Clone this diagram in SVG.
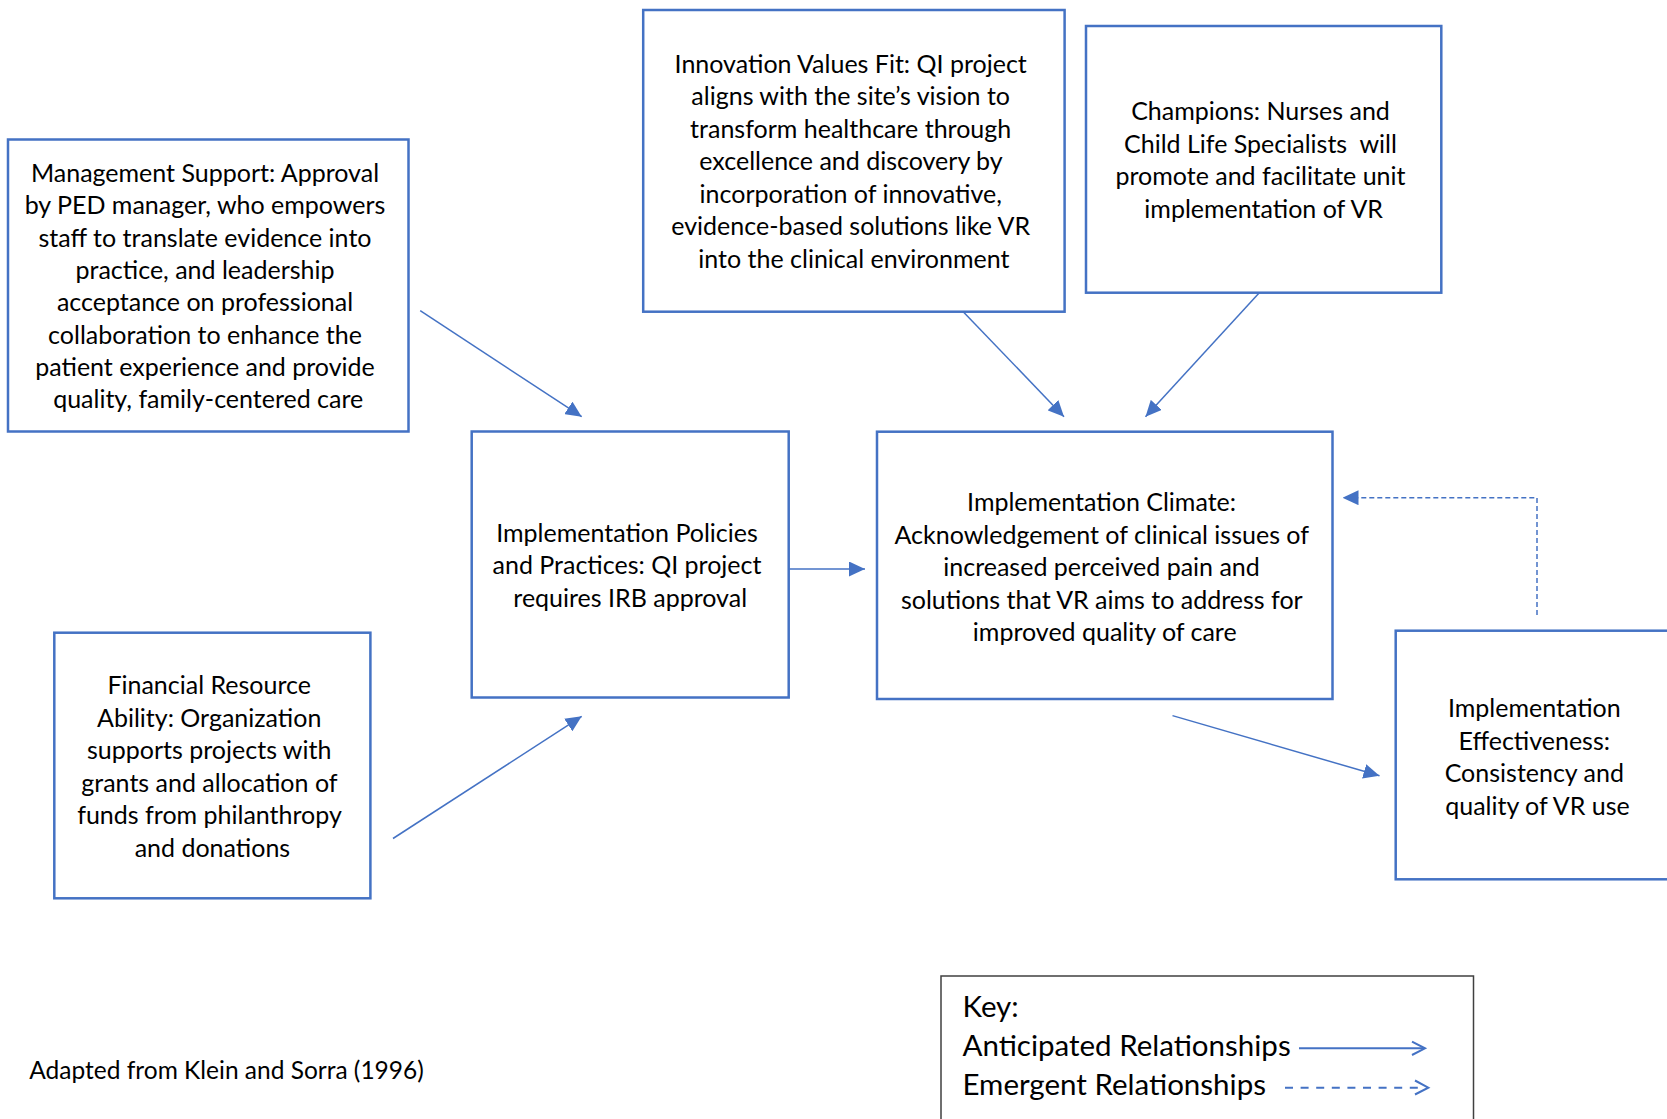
<svg xmlns="http://www.w3.org/2000/svg" width="1667" height="1119" viewBox="0 0 1667 1119">
<style>
  .box { fill: #ffffff; stroke: #4472C4; stroke-width: 2.5; }
  .t { font-family: Lato, "Liberation Sans", sans-serif; font-size: 25px; fill: #000000; text-anchor: middle; }
  .k { font-family: Lato, "Liberation Sans", sans-serif; font-size: 29.5px; fill: #000000; }
  .c { stroke: #4472C4; stroke-width: 1.5; fill: none; }
  .d { stroke-dasharray: 5 3; }
</style>
<defs>
  <marker id="ah" viewBox="0 0 16 15" refX="16" refY="7.5" markerWidth="16" markerHeight="15" markerUnits="userSpaceOnUse" orient="auto">
    <path d="M0,0 L16,7.5 L0,15 z" fill="#4472C4"/>
  </marker>
</defs>
<rect width="1667" height="1119" fill="#ffffff"/>

<g id="management-support">
  <rect class="box" x="8" y="139.5" width="400.5" height="292"/>
  <text class="t">
    <tspan x="208.2" y="182">Management Support: Approval</tspan>
    <tspan x="208.2" y="214.3">by PED manager, who empowers</tspan>
    <tspan x="208.2" y="246.6">staff to translate evidence into</tspan>
    <tspan x="208.2" y="278.9">practice, and leadership</tspan>
    <tspan x="208.2" y="311.2">acceptance on professional</tspan>
    <tspan x="208.2" y="343.5">collaboration to enhance the</tspan>
    <tspan x="208.2" y="375.8">patient experience and provide</tspan>
    <tspan x="208.2" y="408.1">quality, family-centered care</tspan>
  </text>
</g>

<g id="innovation-values-fit">
  <rect class="box" x="643.2" y="10" width="421.4" height="301.7"/>
  <text class="t">
    <tspan x="853.9" y="72.7">Innovation Values Fit: QI project</tspan>
    <tspan x="853.9" y="105.2">aligns with the site’s vision to</tspan>
    <tspan x="853.9" y="137.7">transform healthcare through</tspan>
    <tspan x="853.9" y="170.2">excellence and discovery by</tspan>
    <tspan x="853.9" y="202.7">incorporation of innovative,</tspan>
    <tspan x="853.9" y="235.2">evidence-based solutions like VR</tspan>
    <tspan x="853.9" y="267.7">into the clinical environment</tspan>
  </text>
</g>

<g id="champions">
  <rect class="box" x="1086" y="26" width="355.3" height="266.7"/>
  <text class="t">
    <tspan x="1263.7" y="120">Champions: Nurses and</tspan>
    <tspan x="1263.7" y="152.5">Child Life Specialists&#160; will</tspan>
    <tspan x="1263.7" y="185">promote and facilitate unit</tspan>
    <tspan x="1263.7" y="217.5">implementation of VR</tspan>
  </text>
</g>

<g id="implementation-policies">
  <rect class="box" x="471.7" y="431.5" width="317" height="266"/>
  <text class="t">
    <tspan x="630.2" y="541.7">Implementation Policies</tspan>
    <tspan x="630.2" y="574.2">and Practices: QI project</tspan>
    <tspan x="630.2" y="606.7">requires IRB approval</tspan>
  </text>
</g>

<g id="implementation-climate">
  <rect class="box" x="877" y="431.7" width="455.5" height="267.3"/>
  <text class="t">
    <tspan x="1104.75" y="511">Implementation Climate:</tspan>
    <tspan x="1104.75" y="543.5">Acknowledgement of clinical issues of</tspan>
    <tspan x="1104.75" y="576">increased perceived pain and</tspan>
    <tspan x="1104.75" y="608.5">solutions that VR aims to address for</tspan>
    <tspan x="1104.75" y="641">improved quality of care</tspan>
  </text>
</g>

<g id="financial-resource">
  <rect class="box" x="54.3" y="632.7" width="316.1" height="265.6"/>
  <text class="t">
    <tspan x="212.4" y="694.3">Financial Resource</tspan>
    <tspan x="212.4" y="726.8">Ability: Organization</tspan>
    <tspan x="212.4" y="759.3">supports projects with</tspan>
    <tspan x="212.4" y="791.8">grants and allocation of</tspan>
    <tspan x="212.4" y="824.3">funds from philanthropy</tspan>
    <tspan x="212.4" y="856.8">and donations</tspan>
  </text>
</g>

<g id="implementation-effectiveness">
  <rect class="box" x="1395.7" y="630.7" width="290" height="248.6"/>
  <text class="t">
    <tspan x="1537.5" y="717">Implementation</tspan>
    <tspan x="1537.5" y="749.5">Effectiveness:</tspan>
    <tspan x="1537.5" y="782">Consistency and</tspan>
    <tspan x="1537.5" y="814.5">quality of VR use</tspan>
  </text>
</g>

<g id="connectors">
  <line class="c" x1="420.2" y1="310.7" x2="581.7" y2="416.7" marker-end="url(#ah)"/>
  <line class="c" x1="393" y1="838.5" x2="581.7" y2="716.3" marker-end="url(#ah)"/>
  <line class="c" x1="963.2" y1="311.7" x2="1064" y2="416.7" marker-end="url(#ah)"/>
  <line class="c" x1="1259.3" y1="292.7" x2="1145.5" y2="416.7" marker-end="url(#ah)"/>
  <line class="c" x1="788.7" y1="569" x2="865" y2="569" marker-end="url(#ah)"/>
  <line class="c" x1="1172.5" y1="715.6" x2="1379.5" y2="775.8" marker-end="url(#ah)"/>
  <polyline class="c d" points="1537,615 1537,497.7 1342.5,497.7" marker-end="url(#ah)"/>
</g>

<g id="key">
  <rect x="941" y="976" width="532.5" height="160" fill="#ffffff" stroke="#404040" stroke-width="1.5"/>
  <text class="k" x="962.5" y="1017">Key:</text>
  <text class="k" x="962.5" y="1056">Anticipated Relationships</text>
  <text class="k" x="962.5" y="1095">Emergent Relationships</text>
  <line x1="1299" y1="1048.3" x2="1423" y2="1048.3" stroke="#4472C4" stroke-width="2"/>
  <polyline points="1412,1041.7 1425,1048.3 1412,1055" fill="none" stroke="#4472C4" stroke-width="2"/>
  <line x1="1285" y1="1087.7" x2="1425" y2="1087.7" stroke="#4472C4" stroke-width="2" stroke-dasharray="8 7.6"/>
  <polyline points="1415,1080.5 1428.3,1087.7 1415,1094.5" fill="none" stroke="#4472C4" stroke-width="2"/>
</g>

<text id="source-note" font-family="Lato, 'Liberation Sans', sans-serif" font-size="24.5" x="29.3" y="1078.8">Adapted from Klein and Sorra (1996)</text>
</svg>
